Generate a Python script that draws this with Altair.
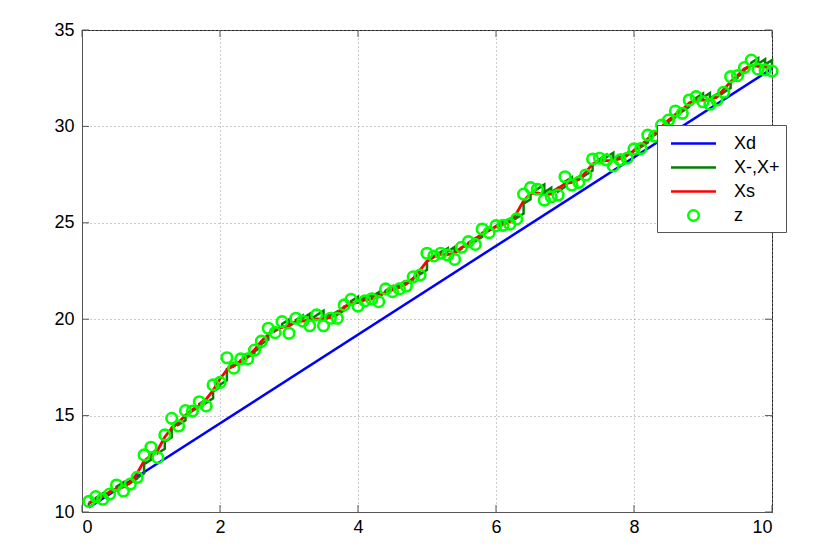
import altair as alt
import pandas as pd

t = [0.1, 0.2, 0.3, 0.4, 0.5, 0.6, 0.7, 0.8, 0.9, 1.0,
     1.1, 1.2, 1.3, 1.4, 1.5, 1.6, 1.7, 1.8, 1.9, 2.0,
     2.1, 2.2, 2.3, 2.4, 2.5, 2.6, 2.7, 2.8, 2.9, 3.0,
     3.1, 3.2, 3.3, 3.4, 3.5, 3.6, 3.7, 3.8, 3.9, 4.0,
     4.1, 4.2, 4.3, 4.4, 4.5, 4.6, 4.7, 4.8, 4.9, 5.0,
     5.1, 5.2, 5.3, 5.4, 5.5, 5.6, 5.7, 5.8, 5.9, 6.0,
     6.1, 6.2, 6.3, 6.4, 6.5, 6.6, 6.7, 6.8, 6.9, 7.0,
     7.1, 7.2, 7.3, 7.4, 7.5, 7.6, 7.7, 7.8, 7.9, 8.0,
     8.1, 8.2, 8.3, 8.4, 8.5, 8.6, 8.7, 8.8, 8.9, 9.0,
     9.1, 9.2, 9.3, 9.4, 9.5, 9.6, 9.7, 9.8, 9.9, 10.0]

z = [10.55, 10.80, 10.66, 10.93, 11.40, 11.09, 11.45, 11.80, 12.96, 13.36,
     12.82, 14.00, 14.86, 14.46, 15.26, 15.24, 15.72, 15.50, 16.59, 16.72,
     18.00, 17.46, 17.94, 17.94, 18.40, 18.86, 19.53, 19.30, 19.87, 19.27,
     20.05, 19.90, 19.66, 20.22, 19.66, 20.05, 20.05, 20.74, 21.03, 20.68,
     20.95, 21.05, 20.91, 21.57, 21.43, 21.57, 21.72, 22.20, 22.29, 23.42,
     23.28, 23.42, 23.33, 23.10, 23.73, 24.02, 23.88, 24.68, 24.49, 24.85,
     24.87, 24.93, 25.20, 26.49, 26.82, 26.74, 26.18, 26.35, 26.44, 27.39,
     26.96, 27.10, 27.48, 28.31, 28.35, 28.26, 27.95, 28.26, 28.35, 28.83,
     28.85, 29.55, 29.50, 30.07, 30.33, 30.80, 30.68, 31.37, 31.54, 31.28,
     31.15, 31.37, 31.77, 32.58, 32.63, 33.05, 33.44, 32.97, 32.93, 32.87]

x_minus = [10.30, 10.66, 10.96, 11.04, 11.22, 11.54, 11.55, 11.73, 12.00, 12.71,
           13.27, 13.28, 13.87, 14.60, 14.76, 15.24, 15.47, 15.83, 15.90, 16.48,
           16.83, 17.65, 17.79, 18.10, 18.25, 18.56, 18.94, 19.47, 19.62, 19.98,
           19.86, 20.19, 20.28, 20.20, 20.44, 20.28, 20.40, 20.46, 20.83, 21.16,
           21.15, 21.28, 21.40, 21.39, 21.71, 21.80, 21.92, 22.05, 22.36, 22.56,
           23.22, 23.48, 23.68, 23.74, 23.65, 23.92, 24.20, 24.27, 24.71, 24.83,
           25.07, 25.20, 25.30, 25.48, 26.22, 26.75, 26.98, 26.81, 26.81, 26.86,
           27.36, 27.39, 27.48, 27.71, 28.24, 28.53, 28.63, 28.52, 28.62, 28.72,
           29.01, 29.16, 29.59, 29.78, 30.16, 30.48, 30.87, 31.01, 31.42, 31.71,
           31.73, 31.67, 31.75, 31.99, 32.52, 32.81, 33.16, 33.53, 33.48, 33.44]

x_plus = [10.43, 10.73, 10.81, 10.99, 11.31, 11.32, 11.50, 11.77, 12.48, 13.04,
          13.05, 13.64, 14.37, 14.53, 15.01, 15.24, 15.60, 15.67, 16.25, 16.60,
          17.42, 17.56, 17.87, 18.02, 18.33, 18.71, 19.24, 19.39, 19.75, 19.63,
          19.96, 20.05, 19.97, 20.21, 20.05, 20.17, 20.23, 20.60, 20.93, 20.92,
          21.05, 21.17, 21.16, 21.48, 21.57, 21.69, 21.82, 22.13, 22.33, 22.99,
          23.25, 23.45, 23.51, 23.42, 23.69, 23.97, 24.04, 24.48, 24.60, 24.84,
          24.97, 25.07, 25.25, 25.99, 26.52, 26.75, 26.58, 26.58, 26.63, 27.13,
          27.16, 27.25, 27.48, 28.01, 28.30, 28.40, 28.29, 28.39, 28.49, 28.78,
          28.93, 29.36, 29.55, 29.93, 30.25, 30.64, 30.78, 31.19, 31.48, 31.50,
          31.44, 31.52, 31.76, 32.29, 32.58, 32.93, 33.30, 33.25, 33.21, 33.16]

xs = [10.47, 10.66, 10.79, 11.04, 11.20, 11.30, 11.52, 12.01, 12.65, 12.93,
      13.23, 13.89, 14.34, 14.66, 15.01, 15.31, 15.52, 15.85, 16.31, 16.90,
      17.38, 17.60, 17.83, 18.06, 18.41, 18.86, 19.20, 19.46, 19.58, 19.68,
      19.89, 19.90, 19.98, 20.02, 20.00, 20.09, 20.30, 20.65, 20.81, 20.87,
      21.00, 21.05, 21.21, 21.41, 21.52, 21.64, 21.86, 22.12, 22.55, 23.01,
      23.24, 23.37, 23.35, 23.44, 23.72, 23.89, 24.15, 24.43, 24.61, 24.79,
      24.91, 25.05, 25.51, 26.14, 26.52, 26.55, 26.47, 26.49, 26.77, 27.03,
      27.09, 27.25, 27.63, 28.04, 28.24, 28.23, 28.23, 28.33, 28.52, 28.74,
      29.03, 29.34, 29.63, 29.98, 30.33, 30.60, 30.87, 31.22, 31.38, 31.36,
      31.37, 31.53, 31.91, 32.32, 32.64, 33.00, 33.16, 33.12, 33.07, 33.10]

xd_t = [0.1, 10.0]
xd = [10.23, 33.0]

x_ticks = [0, 2, 4, 6, 8, 10]
y_ticks = [10, 15, 20, 25, 30, 35]

series_names = ["Xd", "X-,X+", "Xs", "z"]
series_colors = ["#0000ff", "#007f00", "#ff0000", "#00ff00"]
line_path = "M-2,0L2,0"
circ_path = "M-0.47,0A0.47,0.47,0,1,1,0.47,0A0.47,0.47,0,1,1,-0.47,0Z"
series_shapes = [line_path, line_path, line_path, circ_path]

df_d = pd.DataFrame({"t": xd_t, "value": xd, "series": "Xd"})
pm_rows = []
for i, ti in enumerate(t):
    pm_rows.append({"t": ti, "value": x_minus[i], "order": 2 * i, "series": "X-,X+"})
    pm_rows.append({"t": ti, "value": x_plus[i], "order": 2 * i + 1, "series": "X-,X+"})
df_pm = pd.DataFrame(pm_rows)
df_s = pd.DataFrame({"t": t, "value": xs, "series": "Xs"})
df_z = pd.DataFrame({"t": t, "value": z, "series": "z"})

FONT = "Liberation Sans"
W, H = 690, 482

xenc = alt.X("t:Q", scale=alt.Scale(domain=[0, 10], nice=False),
             axis=alt.Axis(values=x_ticks, format="d", title=None, grid=True, ticks=False,
                           labelFontSize=18, labelFont=FONT, labelColor="#000",
                           labelPadding=6, domainColor="#555",
                           gridDash=[1, 3], gridColor="#999", gridOpacity=1))
yenc = alt.Y("value:Q", scale=alt.Scale(domain=[10, 35], nice=False, zero=False),
             axis=alt.Axis(values=y_ticks, format="d", title=None, grid=True, ticks=False,
                           labelFontSize=18, labelFont=FONT, labelColor="#000",
                           labelPadding=8, domainColor="#555",
                           gridDash=[1, 3], gridColor="#999", gridOpacity=1))

color_scale = alt.Scale(domain=series_names, range=series_colors)
shape_scale = alt.Scale(domain=series_names, range=series_shapes)
leg = alt.Legend(title=None)

c_d = alt.Chart(df_d).mark_line(strokeWidth=2.5).encode(
    x=xenc, y=yenc, color=alt.Color("series:N", scale=color_scale, legend=leg))
c_pm = alt.Chart(df_pm).mark_line(strokeWidth=2.5).encode(
    x=xenc, y=yenc, order=alt.Order("order:Q"),
    color=alt.Color("series:N", scale=color_scale, legend=leg))
c_s = alt.Chart(df_s).mark_line(strokeWidth=2.8).encode(
    x=xenc, y=yenc, color=alt.Color("series:N", scale=color_scale, legend=leg))
c_z = alt.Chart(df_z).mark_point(filled=False, strokeWidth=2.6, size=506, opacity=1).encode(
    x=xenc, y=yenc,
    color=alt.Color("series:N", scale=color_scale, legend=leg),
    shape=alt.Shape("series:N", scale=shape_scale, legend=leg))

df_xt = pd.DataFrame({"t": x_ticks})
df_yt = pd.DataFrame({"value": y_ticks})
tick_col = "#555"
tb = alt.Chart(df_xt).mark_rule(color=tick_col, strokeWidth=1).encode(
    x="t:Q", y=alt.value(H), y2=alt.value(H - 7))
tt = alt.Chart(df_xt).mark_rule(color=tick_col, strokeWidth=1).encode(
    x="t:Q", y=alt.value(0), y2=alt.value(7))
tl = alt.Chart(df_yt).mark_rule(color=tick_col, strokeWidth=1).encode(
    y="value:Q", x=alt.value(0), x2=alt.value(7))
tr = alt.Chart(df_yt).mark_rule(color=tick_col, strokeWidth=1).encode(
    y="value:Q", x=alt.value(W), x2=alt.value(W - 7))

chart = alt.layer(tb, tt, tl, tr, c_d, c_pm, c_s, c_z).properties(
    width=W, height=H,
    autosize=alt.AutoSizeParams(type="none"),
    padding={"left": 74, "top": 22, "right": 45, "bottom": 30},
    background="white",
).configure_view(
    stroke="#222", strokeWidth=1
).configure_legend(
    orient="none", legendX=575, legendY=95,
    padding=6, fillColor="white", strokeColor="#555",
    symbolSize=506, symbolStrokeWidth=2.5, symbolOffset=18,
    labelFont=FONT, labelFontSize=18, labelColor="#000",
    rowPadding=2, labelOffset=28,
)

chart.save("out.html", embed_options={"renderer": "svg", "actions": False})
